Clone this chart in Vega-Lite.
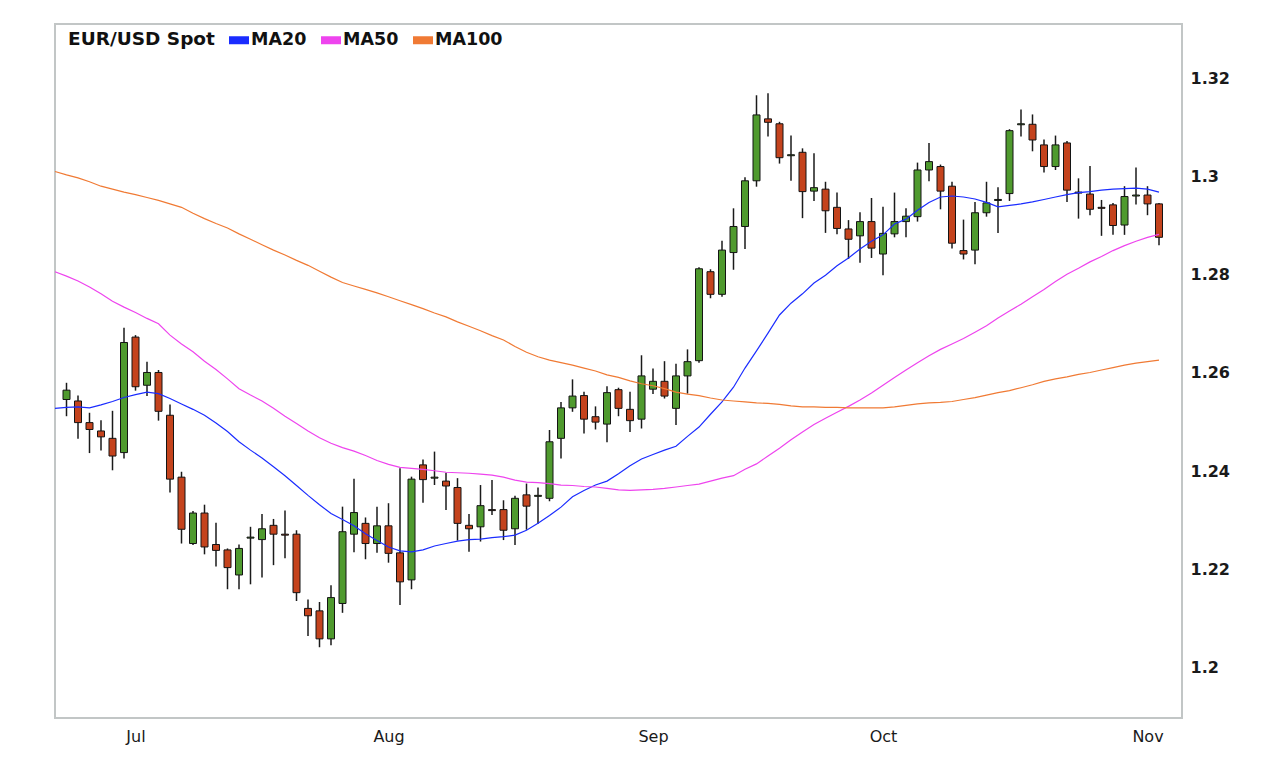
{
  "$schema": "https://vega.github.io/schema/vega-lite/v6.json",
  "width": 1127,
  "height": 694,
  "autosize": {"type": "none"},
  "padding": {"left": 55, "top": 24, "right": 104, "bottom": 52},
  "background": "white",
  "config": {
    "view": {"stroke": "#c2c6c6", "strokeWidth": 2},
    "axis": {"grid": false, "ticks": false, "domain": false}
  },
  "data": {
    "values": [
      {"d": "2012-06-21", "MA20": 1.2528, "MA50": 1.2806, "MA100": 1.3010},
      {"d": "2012-06-22", "o": 1.2546, "h": 1.2580, "l": 1.2512, "c": 1.2565, "MA20": 1.2530, "MA50": 1.2797, "MA100": 1.3003},
      {"d": "2012-06-25", "o": 1.2543, "h": 1.2554, "l": 1.2466, "c": 1.2499, "MA20": 1.2531, "MA50": 1.2787, "MA100": 1.2997},
      {"d": "2012-06-26", "o": 1.2499, "h": 1.2519, "l": 1.2437, "c": 1.2485, "MA20": 1.2529, "MA50": 1.2775, "MA100": 1.2989},
      {"d": "2012-06-27", "o": 1.2482, "h": 1.2504, "l": 1.2442, "c": 1.2470, "MA20": 1.2535, "MA50": 1.2761, "MA100": 1.2980},
      {"d": "2012-06-28", "o": 1.2467, "h": 1.2523, "l": 1.2402, "c": 1.2431, "MA20": 1.2542, "MA50": 1.2746, "MA100": 1.2974},
      {"d": "2012-06-29", "o": 1.2438, "h": 1.2692, "l": 1.2426, "c": 1.2662, "MA20": 1.2550, "MA50": 1.2734, "MA100": 1.2968},
      {"d": "2012-07-02", "o": 1.2673, "h": 1.2677, "l": 1.2564, "c": 1.2572, "MA20": 1.2556, "MA50": 1.2723, "MA100": 1.2963},
      {"d": "2012-07-03", "o": 1.2575, "h": 1.2623, "l": 1.2553, "c": 1.2601, "MA20": 1.2561, "MA50": 1.2711, "MA100": 1.2957},
      {"d": "2012-07-04", "o": 1.2601, "h": 1.2606, "l": 1.2503, "c": 1.2522, "MA20": 1.2558, "MA50": 1.2700, "MA100": 1.2951},
      {"d": "2012-07-05", "o": 1.2514, "h": 1.2536, "l": 1.2357, "c": 1.2384, "MA20": 1.2548, "MA50": 1.2677, "MA100": 1.2944},
      {"d": "2012-07-06", "o": 1.2388, "h": 1.2399, "l": 1.2253, "c": 1.2282, "MA20": 1.2537, "MA50": 1.2659, "MA100": 1.2937},
      {"d": "2012-07-09", "o": 1.2253, "h": 1.2319, "l": 1.2250, "c": 1.2315, "MA20": 1.2526, "MA50": 1.2643, "MA100": 1.2925},
      {"d": "2012-07-10", "o": 1.2315, "h": 1.2332, "l": 1.2231, "c": 1.2246, "MA20": 1.2514, "MA50": 1.2624, "MA100": 1.2914},
      {"d": "2012-07-11", "o": 1.2251, "h": 1.2295, "l": 1.2206, "c": 1.2239, "MA20": 1.2498, "MA50": 1.2607, "MA100": 1.2904},
      {"d": "2012-07-12", "o": 1.2240, "h": 1.2243, "l": 1.2160, "c": 1.2204, "MA20": 1.2481, "MA50": 1.2588, "MA100": 1.2895},
      {"d": "2012-07-13", "o": 1.2189, "h": 1.2251, "l": 1.2160, "c": 1.2243, "MA20": 1.2460, "MA50": 1.2568, "MA100": 1.2883},
      {"d": "2012-07-16", "o": 1.2264, "h": 1.2287, "l": 1.2170, "c": 1.2266, "MA20": 1.2443, "MA50": 1.2555, "MA100": 1.2872},
      {"d": "2012-07-17", "o": 1.2261, "h": 1.2313, "l": 1.2184, "c": 1.2283, "MA20": 1.2427, "MA50": 1.2543, "MA100": 1.2861},
      {"d": "2012-07-18", "o": 1.2290, "h": 1.2303, "l": 1.2209, "c": 1.2272, "MA20": 1.2409, "MA50": 1.2528, "MA100": 1.2850},
      {"d": "2012-07-19", "o": 1.2272, "h": 1.2320, "l": 1.2223, "c": 1.2270, "MA20": 1.2391, "MA50": 1.2512, "MA100": 1.2840},
      {"d": "2012-07-20", "o": 1.2272, "h": 1.2280, "l": 1.2136, "c": 1.2153, "MA20": 1.2371, "MA50": 1.2497, "MA100": 1.2829},
      {"d": "2012-07-23", "o": 1.2121, "h": 1.2139, "l": 1.2065, "c": 1.2106, "MA20": 1.2351, "MA50": 1.2482, "MA100": 1.2819},
      {"d": "2012-07-24", "o": 1.2116, "h": 1.2134, "l": 1.2042, "c": 1.2059, "MA20": 1.2332, "MA50": 1.2468, "MA100": 1.2807},
      {"d": "2012-07-25", "o": 1.2059, "h": 1.2168, "l": 1.2046, "c": 1.2143, "MA20": 1.2314, "MA50": 1.2457, "MA100": 1.2795},
      {"d": "2012-07-26", "o": 1.2131, "h": 1.2328, "l": 1.2112, "c": 1.2277, "MA20": 1.2302, "MA50": 1.2448, "MA100": 1.2784},
      {"d": "2012-07-27", "o": 1.2272, "h": 1.2385, "l": 1.2235, "c": 1.2316, "MA20": 1.2289, "MA50": 1.2441, "MA100": 1.2777},
      {"d": "2012-07-30", "o": 1.2294, "h": 1.2306, "l": 1.2221, "c": 1.2253, "MA20": 1.2273, "MA50": 1.2432, "MA100": 1.2770},
      {"d": "2012-07-31", "o": 1.2253, "h": 1.2328, "l": 1.2234, "c": 1.2289, "MA20": 1.2259, "MA50": 1.2422, "MA100": 1.2763},
      {"d": "2012-08-01", "o": 1.2289, "h": 1.2335, "l": 1.2214, "c": 1.2233, "MA20": 1.2246, "MA50": 1.2414, "MA100": 1.2755},
      {"d": "2012-08-02", "o": 1.2234, "h": 1.2406, "l": 1.2128, "c": 1.2175, "MA20": 1.2238, "MA50": 1.2408, "MA100": 1.2747},
      {"d": "2012-08-03", "o": 1.2179, "h": 1.2389, "l": 1.2160, "c": 1.2384, "MA20": 1.2236, "MA50": 1.2406, "MA100": 1.2739},
      {"d": "2012-08-06", "o": 1.2413, "h": 1.2424, "l": 1.2336, "c": 1.2383, "MA20": 1.2240, "MA50": 1.2404, "MA100": 1.2731},
      {"d": "2012-08-07", "o": 1.2386, "h": 1.2440, "l": 1.2372, "c": 1.2388, "MA20": 1.2248, "MA50": 1.2401, "MA100": 1.2722},
      {"d": "2012-08-08", "o": 1.2380, "h": 1.2397, "l": 1.2321, "c": 1.2370, "MA20": 1.2253, "MA50": 1.2398, "MA100": 1.2714},
      {"d": "2012-08-09", "o": 1.2367, "h": 1.2386, "l": 1.2259, "c": 1.2294, "MA20": 1.2258, "MA50": 1.2397, "MA100": 1.2704},
      {"d": "2012-08-10", "o": 1.2290, "h": 1.2313, "l": 1.2236, "c": 1.2283, "MA20": 1.2261, "MA50": 1.2396, "MA100": 1.2695},
      {"d": "2012-08-13", "o": 1.2287, "h": 1.2372, "l": 1.2257, "c": 1.2330, "MA20": 1.2262, "MA50": 1.2394, "MA100": 1.2686},
      {"d": "2012-08-14", "o": 1.2322, "h": 1.2382, "l": 1.2311, "c": 1.2320, "MA20": 1.2265, "MA50": 1.2392, "MA100": 1.2676},
      {"d": "2012-08-15", "o": 1.2322, "h": 1.2341, "l": 1.2260, "c": 1.2280, "MA20": 1.2267, "MA50": 1.2388, "MA100": 1.2667},
      {"d": "2012-08-16", "o": 1.2283, "h": 1.2350, "l": 1.2250, "c": 1.2345, "MA20": 1.2270, "MA50": 1.2382, "MA100": 1.2654},
      {"d": "2012-08-17", "o": 1.2352, "h": 1.2375, "l": 1.2281, "c": 1.2329, "MA20": 1.2280, "MA50": 1.2378, "MA100": 1.2642},
      {"d": "2012-08-20", "o": 1.2349, "h": 1.2367, "l": 1.2293, "c": 1.2351, "MA20": 1.2294, "MA50": 1.2377, "MA100": 1.2633},
      {"d": "2012-08-21", "o": 1.2345, "h": 1.2484, "l": 1.2339, "c": 1.2460, "MA20": 1.2310, "MA50": 1.2375, "MA100": 1.2626},
      {"d": "2012-08-22", "o": 1.2467, "h": 1.2541, "l": 1.2426, "c": 1.2529, "MA20": 1.2327, "MA50": 1.2372, "MA100": 1.2621},
      {"d": "2012-08-23", "o": 1.2529, "h": 1.2587, "l": 1.2521, "c": 1.2553, "MA20": 1.2348, "MA50": 1.2371, "MA100": 1.2616},
      {"d": "2012-08-24", "o": 1.2554, "h": 1.2562, "l": 1.2477, "c": 1.2506, "MA20": 1.2361, "MA50": 1.2369, "MA100": 1.2610},
      {"d": "2012-08-27", "o": 1.2511, "h": 1.2532, "l": 1.2485, "c": 1.2500, "MA20": 1.2372, "MA50": 1.2368, "MA100": 1.2604},
      {"d": "2012-08-28", "o": 1.2496, "h": 1.2573, "l": 1.2459, "c": 1.2560, "MA20": 1.2380, "MA50": 1.2365, "MA100": 1.2596},
      {"d": "2012-08-29", "o": 1.2566, "h": 1.2570, "l": 1.2512, "c": 1.2528, "MA20": 1.2395, "MA50": 1.2362, "MA100": 1.2591},
      {"d": "2012-08-30", "o": 1.2526, "h": 1.2562, "l": 1.2480, "c": 1.2503, "MA20": 1.2411, "MA50": 1.2361, "MA100": 1.2584},
      {"d": "2012-08-31", "o": 1.2506, "h": 1.2636, "l": 1.2487, "c": 1.2594, "MA20": 1.2425, "MA50": 1.2362, "MA100": 1.2578},
      {"d": "2012-09-03", "o": 1.2567, "h": 1.2609, "l": 1.2557, "c": 1.2583, "MA20": 1.2434, "MA50": 1.2363, "MA100": 1.2574},
      {"d": "2012-09-04", "o": 1.2583, "h": 1.2624, "l": 1.2548, "c": 1.2553, "MA20": 1.2443, "MA50": 1.2365, "MA100": 1.2568},
      {"d": "2012-09-05", "o": 1.2528, "h": 1.2619, "l": 1.2494, "c": 1.2594, "MA20": 1.2451, "MA50": 1.2368, "MA100": 1.2561},
      {"d": "2012-09-06", "o": 1.2594, "h": 1.2648, "l": 1.2558, "c": 1.2623, "MA20": 1.2471, "MA50": 1.2371, "MA100": 1.2557},
      {"d": "2012-09-07", "o": 1.2625, "h": 1.2815, "l": 1.2621, "c": 1.2812, "MA20": 1.2490, "MA50": 1.2374, "MA100": 1.2554},
      {"d": "2012-09-10", "o": 1.2806, "h": 1.2811, "l": 1.2752, "c": 1.2760, "MA20": 1.2516, "MA50": 1.2380, "MA100": 1.2549},
      {"d": "2012-09-11", "o": 1.2760, "h": 1.2869, "l": 1.2755, "c": 1.2850, "MA20": 1.2541, "MA50": 1.2386, "MA100": 1.2545},
      {"d": "2012-09-12", "o": 1.2845, "h": 1.2935, "l": 1.2810, "c": 1.2898, "MA20": 1.2571, "MA50": 1.2391, "MA100": 1.2543},
      {"d": "2012-09-13", "o": 1.2898, "h": 1.2998, "l": 1.2852, "c": 1.2991, "MA20": 1.2610, "MA50": 1.2404, "MA100": 1.2541},
      {"d": "2012-09-14", "o": 1.2991, "h": 1.3165, "l": 1.2979, "c": 1.3125, "MA20": 1.2645, "MA50": 1.2415, "MA100": 1.2539},
      {"d": "2012-09-17", "o": 1.3117, "h": 1.3169, "l": 1.3081, "c": 1.3110, "MA20": 1.2681, "MA50": 1.2431, "MA100": 1.2538},
      {"d": "2012-09-18", "o": 1.3107, "h": 1.3111, "l": 1.3026, "c": 1.3038, "MA20": 1.2718, "MA50": 1.2447, "MA100": 1.2536},
      {"d": "2012-09-19", "o": 1.3042, "h": 1.3083, "l": 1.2991, "c": 1.3044, "MA20": 1.2742, "MA50": 1.2464, "MA100": 1.2533},
      {"d": "2012-09-20", "o": 1.3049, "h": 1.3057, "l": 1.2915, "c": 1.2969, "MA20": 1.2761, "MA50": 1.2480, "MA100": 1.2531},
      {"d": "2012-09-21", "o": 1.2970, "h": 1.3047, "l": 1.2950, "c": 1.2977, "MA20": 1.2783, "MA50": 1.2495, "MA100": 1.2531},
      {"d": "2012-09-24", "o": 1.2974, "h": 1.2989, "l": 1.2885, "c": 1.2930, "MA20": 1.2799, "MA50": 1.2508, "MA100": 1.2530},
      {"d": "2012-09-25", "o": 1.2937, "h": 1.2967, "l": 1.2882, "c": 1.2894, "MA20": 1.2818, "MA50": 1.2520, "MA100": 1.2530},
      {"d": "2012-09-26", "o": 1.2893, "h": 1.2911, "l": 1.2832, "c": 1.2872, "MA20": 1.2834, "MA50": 1.2532, "MA100": 1.2529},
      {"d": "2012-09-27", "o": 1.2879, "h": 1.2927, "l": 1.2824, "c": 1.2908, "MA20": 1.2852, "MA50": 1.2545, "MA100": 1.2529},
      {"d": "2012-09-28", "o": 1.2908, "h": 1.2956, "l": 1.2834, "c": 1.2854, "MA20": 1.2868, "MA50": 1.2559, "MA100": 1.2529},
      {"d": "2012-10-01", "o": 1.2842, "h": 1.2938, "l": 1.2799, "c": 1.2884, "MA20": 1.2881, "MA50": 1.2575, "MA100": 1.2529},
      {"d": "2012-10-02", "o": 1.2883, "h": 1.2967, "l": 1.2876, "c": 1.2908, "MA20": 1.2903, "MA50": 1.2591, "MA100": 1.2531},
      {"d": "2012-10-03", "o": 1.2908, "h": 1.2935, "l": 1.2876, "c": 1.2919, "MA20": 1.2913, "MA50": 1.2606, "MA100": 1.2534},
      {"d": "2012-10-04", "o": 1.2918, "h": 1.3028, "l": 1.2908, "c": 1.3013, "MA20": 1.2931, "MA50": 1.2621, "MA100": 1.2537},
      {"d": "2012-10-05", "o": 1.3013, "h": 1.3068, "l": 1.2990, "c": 1.3030, "MA20": 1.2947, "MA50": 1.2635, "MA100": 1.2539},
      {"d": "2012-10-08", "o": 1.3020, "h": 1.3024, "l": 1.2933, "c": 1.2970, "MA20": 1.2958, "MA50": 1.2648, "MA100": 1.2540},
      {"d": "2012-10-09", "o": 1.2980, "h": 1.2989, "l": 1.2853, "c": 1.2864, "MA20": 1.2960, "MA50": 1.2659, "MA100": 1.2542},
      {"d": "2012-10-10", "o": 1.2849, "h": 1.2912, "l": 1.2831, "c": 1.2842, "MA20": 1.2958, "MA50": 1.2670, "MA100": 1.2546},
      {"d": "2012-10-11", "o": 1.2850, "h": 1.2948, "l": 1.2821, "c": 1.2926, "MA20": 1.2954, "MA50": 1.2683, "MA100": 1.2550},
      {"d": "2012-10-12", "o": 1.2926, "h": 1.2989, "l": 1.2918, "c": 1.2946, "MA20": 1.2947, "MA50": 1.2696, "MA100": 1.2555},
      {"d": "2012-10-15", "o": 1.2951, "h": 1.2978, "l": 1.2885, "c": 1.2953, "MA20": 1.2938, "MA50": 1.2712, "MA100": 1.2560},
      {"d": "2012-10-16", "o": 1.2965, "h": 1.3096, "l": 1.2950, "c": 1.3093, "MA20": 1.2941, "MA50": 1.2726, "MA100": 1.2564},
      {"d": "2012-10-17", "o": 1.3105, "h": 1.3136, "l": 1.3081, "c": 1.3107, "MA20": 1.2944, "MA50": 1.2740, "MA100": 1.2570},
      {"d": "2012-10-18", "o": 1.3106, "h": 1.3126, "l": 1.3051, "c": 1.3074, "MA20": 1.2948, "MA50": 1.2755, "MA100": 1.2576},
      {"d": "2012-10-19", "o": 1.3064, "h": 1.3075, "l": 1.3008, "c": 1.3020, "MA20": 1.2953, "MA50": 1.2770, "MA100": 1.2583},
      {"d": "2012-10-22", "o": 1.3020, "h": 1.3083, "l": 1.3013, "c": 1.3064, "MA20": 1.2958, "MA50": 1.2786, "MA100": 1.2588},
      {"d": "2012-10-23", "o": 1.3068, "h": 1.3072, "l": 1.2948, "c": 1.2972, "MA20": 1.2963, "MA50": 1.2801, "MA100": 1.2592},
      {"d": "2012-10-24", "o": 1.2968, "h": 1.2996, "l": 1.2914, "c": 1.2966, "MA20": 1.2967, "MA50": 1.2813, "MA100": 1.2597},
      {"d": "2012-10-25", "o": 1.2964, "h": 1.3021, "l": 1.2921, "c": 1.2933, "MA20": 1.2969, "MA50": 1.2826, "MA100": 1.2601},
      {"d": "2012-10-26", "o": 1.2937, "h": 1.2952, "l": 1.2879, "c": 1.2935, "MA20": 1.2972, "MA50": 1.2837, "MA100": 1.2606},
      {"d": "2012-10-29", "o": 1.2942, "h": 1.2946, "l": 1.2881, "c": 1.2900, "MA20": 1.2974, "MA50": 1.2849, "MA100": 1.2611},
      {"d": "2012-10-30", "o": 1.2901, "h": 1.2980, "l": 1.2881, "c": 1.2959, "MA20": 1.2975, "MA50": 1.2859, "MA100": 1.2616},
      {"d": "2012-10-31", "o": 1.2960, "h": 1.3018, "l": 1.2943, "c": 1.2962, "MA20": 1.2976, "MA50": 1.2868, "MA100": 1.2620},
      {"d": "2012-11-01", "o": 1.2962, "h": 1.2980, "l": 1.2921, "c": 1.2944, "MA20": 1.2974, "MA50": 1.2876, "MA100": 1.2623},
      {"d": "2012-11-02", "o": 1.2944, "h": 1.2946, "l": 1.2860, "c": 1.2876, "MA20": 1.2968, "MA50": 1.2882, "MA100": 1.2626}
    ]
  },
  "encoding": {
    "x": {
      "field": "d",
      "type": "ordinal",
      "scale": {"type": "point", "padding": 1, "align": 0},
      "axis": {
        "title": null,
        "values": ["2012-07-02", "2012-08-01", "2012-09-03", "2012-10-01", "2012-11-01"],
        "labelExpr": "utcFormat(toDate(datum.value), '%b')",
        "labelAngle": 0,
        "labelFont": "DejaVu Sans",
        "labelFontSize": 16,
        "labelColor": "#1a1a1a",
        "labelPadding": 10
      }
    }
  },
  "layer": [
    {
      "mark": {"type": "rule", "color": "#1a1a1a", "strokeWidth": 1.5},
      "encoding": {
        "y": {
          "field": "l",
          "type": "quantitative",
          "scale": {"domain": [1.1898, 1.331], "nice": false, "zero": false},
          "axis": {
            "orient": "right",
            "title": null,
            "values": [1.2, 1.22, 1.24, 1.26, 1.28, 1.3, 1.32],
            "format": "~g",
            "labelFont": "DejaVu Sans",
            "labelFontSize": 16,
            "labelFontWeight": "bold",
            "labelColor": "#1a1a1a",
            "labelPadding": 8
          }
        },
        "y2": {"field": "h"}
      }
    },
    {
      "mark": {"type": "bar", "size": 7, "stroke": "#141414", "strokeWidth": 1},
      "encoding": {
        "y": {"field": "o", "type": "quantitative", "title": null},
        "y2": {"field": "c"},
        "fill": {
          "condition": {"test": "datum.c >= datum.o", "value": "#4f9a2e"},
          "value": "#c4431d"
        }
      }
    },
    {
      "transform": [
        {"fold": ["MA20", "MA50", "MA100"], "as": ["series", "value"]}
      ],
      "mark": {"type": "line", "strokeWidth": 1.2},
      "encoding": {
        "y": {"field": "value", "type": "quantitative", "title": null},
        "color": {
          "field": "series",
          "type": "nominal",
          "scale": {
            "domain": ["MA20", "MA50", "MA100"],
            "range": ["#1a2cff", "#ee44ee", "#f07a34"]
          },
          "legend": {
            "orient": "none",
            "legendX": 13,
            "legendY": 6,
            "direction": "horizontal",
            "title": "EUR/USD Spot",
            "titleOrient": "left",
            "titleFont": "DejaVu Sans",
            "titleFontSize": 18.5,
            "titleFontWeight": "bold",
            "titleColor": "#111111",
            "titlePadding": 14,
            "titleBaseline": "middle",
            "labelFont": "DejaVu Sans",
            "labelFontSize": 17.5,
            "labelFontWeight": "bold",
            "labelColor": "#111111",
            "labelOffset": 2,
            "columnPadding": 14,
            "symbolType": "M-1,-0.4H1V0.4H-1Z",
            "symbolSize": 400,
            "symbolStrokeWidth": 0,
            "padding": 0,
            "encode": {
              "symbols": {
                "update": {
                  "fill": {"scale": "color", "field": "value"},
                  "stroke": {"value": "transparent"}
                }
              }
            }
          }
        }
      }
    }
  ]
}
